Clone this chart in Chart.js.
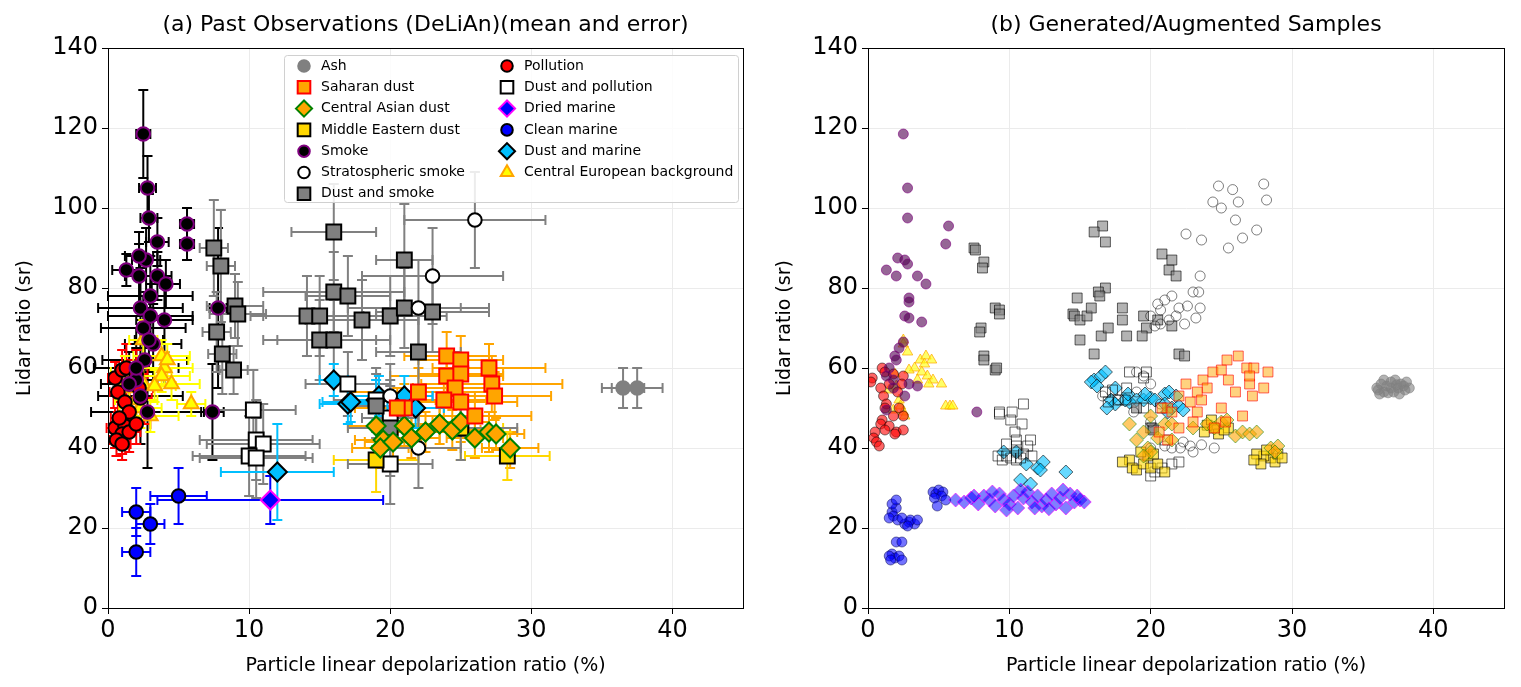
<!DOCTYPE html>
<html><head><meta charset="utf-8">
<script src="https://cdn.jsdelivr.net/npm/chart.js@4"></script>
<style>body{margin:0;background:#fff;overflow:hidden}#w{position:relative;width:1521px;height:687px}
.c{position:absolute;top:0;height:687px}</style></head><body>
<div id="w"><div class="c" style="left:0;width:760px"><canvas id="a"></canvas></div>
<div class="c" style="left:760px;width:761px"><canvas id="b"></canvas></div></div>
<script>
// ---- data: observations [x, y, xerr, yerr] ----
const classNames=["Ash","Saharan dust","Central Asian dust","Middle Eastern dust","Smoke","Stratospheric smoke","Dust and smoke","Pollution","Dust and pollution","Dried marine","Clean marine","Dust and marine","Central European background"];
const obsAsh=[[36.5,55,1.5,5],[37.5,55,1.8,5]];
const obsSaharan=[[24,63,3,6],[25,62,3,6],[24,58,4,6],[25,58.5,3,5],[27,60,4,6],[27.2,56,5,7],[27.4,53,4,6],[24.6,55,3,5],[22,54,5,6],[21,50,4,6],[20.5,50,3,5],[26,48,4,6],[23.8,52,3,6],[25,51.5,4,6]];
const obsCAsian=[[19,45.5,2,5],[19.5,42,2,5],[19.3,40,2,5],[20.2,41.5,2,5],[21,45.5,2,5],[21.5,42.5,2,5],[22.5,44,2,5],[23.5,46,2,5],[24.4,44.5,2,5],[25,46.5,2,5],[26,42.5,2,5],[27,44,2,5],[28.5,40,2,5],[27.5,43.5,2,4]];
const obsMEast=[[19,37,3,8],[25,45,3,8],[28.3,38,3,6]];
const obsSmoke=[[2.5,118.5,0.5,11],[2.8,105,0.6,8],[2.9,97.5,0.6,6],[3.5,91.5,0.8,6],[5.6,96,0.5,4],[5.6,91,0.5,4],[2.7,87,1,8],[2.2,83,1,8],[3.5,83,1,6],[4.1,81,1,6],[1.3,84.5,1,4],[2.3,75,3,10],[7.8,75,0.6,20],[7.4,49,0.8,12],[3,78,3,10],[3,73,3,8],[2.5,70,3,8],[3.2,66,2,10],[2.6,62,3,10],[4,72,2,8],[2,57,2,8],[2.3,53,3,12],[2.8,49,4,14],[1.5,56,2,8],[2,60,3,10],[2.2,88,1,6],[2.9,67,1,8]];
const obsStrat=[[26,97,5,12],[23,83,5,12],[22,75,5,12],[20,53,3,8],[22,40,3,10]];
const obsDSmoke=[[7.5,90,1,12],[8,85.5,1,14],[16,94,3,12],[21,87,2,14],[9,75.5,2,8],[9.2,73.5,2,8],[16,79,5,10],[17,78,3,10],[14.1,73,4,10],[15,73,4,10],[18,72,4,10],[20,73,4,10],[21,75,4,10],[23,74,4,10],[7.7,69,1,10],[8.1,63.5,1,10],[15,67,4,10],[16,67,4,10],[8.9,59.5,1,6],[22,64,3,10],[19,50.5,2,8],[20,45,3,12]];
const obsPoll=[[0.5,57.5,0.5,4],[1,59.5,0.5,5],[1.3,60,0.7,6],[2,58.5,0.8,6],[1.5,56,0.8,6],[0.7,54,0.6,5],[2.2,55,1,6],[1.2,51.5,0.8,5],[2.3,52.5,0.8,6],[1.5,49,1,5],[0.5,45,0.6,5],[1.2,45.5,0.8,5],[1,43.5,0.6,5],[0.6,42,0.5,4],[1,41,0.6,4],[1.5,44,0.8,5],[2,46,1,5],[0.8,47.5,0.6,5]];
const obsDPoll=[[10.3,49.5,3,10],[10.5,42,4,10],[11,41,4,10],[10,38,4,10],[10.5,37.5,4,10],[17,56,3,8],[19,52,3,8],[20,36,3,10],[25,45,4,8],[20,47.5,2,8]];
const obsDried=[[11.5,27,8,6]];
const obsClean=[[2,24,1,6],[3,21,1,5],[5,28,2,7],[2,14,1,6]];
const obsDMarine=[[12,34,4,12],[16,57,1,4],[17,51,2,5],[19,52,2,5],[21,53,2,5],[21.8,50,2,5],[17.2,51.5,2,5],[19.2,53,2,5]];
const obsCE=[[2.5,67,1,5],[1.5,55,1,5],[3.8,63,2,4],[4,60,2,4],[3.8,58,2,4],[4.5,56,2,4],[2,52,1.5,5],[2.3,50,1.5,5],[3,48,2,4],[5.9,51,1,3],[1.2,59,1,4],[2.5,56,2,4],[3.3,55.5,1.5,4],[4.2,62,1.5,4]];
// ---- data: generated samples, flat [x,y,...] ----
const genAsh=[36,55,36.3,56,36.5,54,36.7,55.5,37,56.5,37.2,54,37.5,55,37.7,56,38,54.5,36.2,53.5,36.8,53.8,37.3,57,37.9,55.5,38.3,55,36.5,57,37,55,37.6,53.5,38.1,56.5,36.1,54.5,37.4,55.8];
const genStrat=[24.8,105.5,25.8,104.6,26.2,101.5,25,100,24.4,101.5,28,106,28.2,102,26,97,27.5,94.5,26.5,92.5,25.5,90,22.5,93.5,23.6,92,23.5,83,23,79,23.4,79,21.5,78,21,77,20.5,76,20.7,74.5,23.5,75,22,75,21.8,73,20,73,21.3,72,22.4,71,23.2,72.5,22.6,75.5,20.7,71,20.3,70.5,20,56,19,54,20.7,51,19.5,58,19,59,18.8,49,20,46.5,22.1,40,22.8,40.5,21.5,40,21,40.5,20,40,23,39,24.5,40,17.7,52,16.6,53,22.3,41.5,23.6,40.8];
const genDSmoke=[7.5,90,7.6,89.5,8.2,86.5,8.1,85,16.6,95.5,16,94,16.8,91.5,9,75,9.3,74.5,9.3,73.5,8,70,7.9,69,8.2,63,8.2,62,9,59.5,9.1,60,14.5,73.5,14.6,73,15,72,15.5,73,16.8,80,16.3,79,16.4,78,14.8,77.5,15.8,75,15,67,16.5,68,17,70,18,75,18,72,19.5,73,19.7,70,20.5,72,21.5,70.5,21.3,84.5,20.8,88.5,21.5,87,21.8,83,22,63.5,22.4,63,19,50,20.1,45,20.2,44.5,16,63.5,18.3,68,19.4,68];
const genSaharan=[23.7,57,24.4,59,25,59.5,25.4,62,26.2,63,26.8,60,27.3,60,28.3,59,24,55,23.3,54,22.5,56,22,53,21.2,50,20.8,50,21.5,49,22.8,51.5,23.6,52,23.3,49,25,50,26,54,27,56,28,55,25.5,57,27.2,53,24.5,45,25.3,46.5,26.5,48,22,45,21.2,42,20.6,44,23,46.5,27,58];
const genCAsian=[18.5,46,19.5,44,19,42,19.8,40,20.5,42.5,21,46,21.5,46,21.5,42,23,45,24,46,24.5,45,25,46.5,25.4,47,26,43,26.5,44,27,43.5,27.5,44,28.5,40,29,40.5,28.8,39,20,39,19.5,38,20,48];
const genMEast=[18.5,37,18.7,35,19,34.5,19.5,36,19.8,38,20,35,20.5,36,21,34,20.2,38.5,19.3,39,18,36.5,24.5,45,24,45.7,23.8,44,24.8,43.5,25.5,45,24.3,47,25.2,44.5,28.5,37.5,28,38,27.5,38.5,28.8,36.5,27.8,36,29,38.5,29.3,37.5,27.3,37,28.2,39.5];
const genSmoke=[2.5,118.5,2.8,105,2.8,97.5,2.6,87,2.8,86,2,83,1.3,84.5,2.1,87.5,3.5,83,4.1,81,5.7,95.5,5.5,91,2.9,77.5,2.9,76.5,2.6,73,2.9,72.5,3.8,71.5,2.5,66.5,2.2,65,1.9,63,2,62,1.5,60,1.3,58,1.8,57,7.7,49,1.3,49.5,2.6,53,1.8,55,2.9,56,3.5,55.5];
const genPoll=[0.3,57.5,0.2,56.5,1,60,1.2,59,1.8,58.5,2.5,58,1.5,56,2.4,56,0.9,55,2.1,54,1.1,53,1.3,51,2.2,50,1.2,50,1.8,48,2.5,48,1,47,0.9,46,1.5,45.5,1.2,44.5,0.5,44,2,44,2.5,44.5,0.4,42.5,0.6,41.5,0.8,40.5,1.9,43.5];
const genDPoll=[9.3,49,9.3,48.5,10.1,47,10.2,49,11,51,10.9,46,10.4,44,10.5,42,9.8,41,10.5,40.5,10.5,39,11.3,40.5,11.5,42,10.8,37.5,10.1,37.5,9.8,38,9.5,37,9.2,38,10.5,37,11.6,38,11,38.5,16.8,54,17.3,54.5,18.3,55,17.7,52,17,51.5,19.5,57.5,18.5,59,19.7,59,20,45,20.3,34,20.8,35,20,33,21.5,36,22,36.5,21,42,18.2,52,19.5,50,20.7,50];
const genDried=[6.2,27,6.8,26.5,7.3,27.5,7.8,26,8.2,28,8.6,27,9,25.5,9.3,28.5,9.6,27,10,26,10.3,28,10.6,25,11,27.5,11.3,29,11.6,26.5,12,28,12.3,25.5,12.6,27,13,28.5,13.3,26,13.6,27.5,14,25,14.3,28.5,14.6,26.5,15,27,15.3,26.5,8.8,29,10.8,29.5,12.8,24.8,9.8,24.5,11.8,25,13.8,29.5,7.5,28,14.8,28];
const genClean=[1.7,24,2,25,1.8,23,1.5,22.5,2.1,22,1.7,26,2,27,2.6,21,2.9,21.5,3.3,21,3,22,2.8,20.5,3.5,22,2.4,22.5,4.6,29,4.8,28.5,5,29.5,5.3,29,5.2,28,4.7,27.5,4.9,25.5,5.5,27,1.7,13.5,1.9,12.5,2.2,13,2.4,12,2,16.5,2.4,16.5,1.5,13,1.6,12];
const genDMarine=[16,57,15.8,56.5,16.2,55.5,16.5,58,16.8,59,17.5,55,17.2,52,17.5,51,16.9,50,19,52,19.5,52,20,52.5,18.5,51.5,18.2,52,20.3,52,21,53.5,21.3,54,21.8,53,21,51,21.5,50,22,50.5,22.3,49.5,9.6,39,10.5,39,11.2,36,12,35,12.4,36.5,12.2,34.5,11.5,31,10.8,32,14,34,18.4,53.5,19.6,53.5,21.2,49];
const genCE=[2.5,67,3.7,62,4.1,63,4.5,62,4,61,3.3,60,3.8,59,4.2,58,3.5,57,4.6,57,4.3,56,5.2,56,2.9,59.5,1.9,58.5,2,55.5,1.5,54.5,2.2,52,2.3,50.5,1.8,49.5,2.5,49,2.6,48,5.5,50.5,5.8,50.5,6,50.5,2.5,66,2.8,64];
const xTicks=[0,10,20,30,40], yTicks=[0,20,40,60,80,100,120,140];

// styles per class: [pointStyle, fill, edge, errColor, genFill, genEdge]
const S=[
 ["circle","#808080","#808080","#808080","rgba(128,128,128,0.6)","rgba(128,128,128,0.6)"],
 ["rect","#ffa500","#ff0000","#ffa500","rgba(255,165,0,0.5)","rgba(255,0,0,0.6)"],
 ["rectRot","#ffa500","#008000","#ffa500","rgba(255,165,0,0.6)","rgba(0,128,0,0.5)"],
 ["rect","#ffd700","#000000","#ffd700","rgba(255,215,0,0.6)","rgba(0,0,0,0.6)"],
 ["circle","#000000","#800080","#000000","rgba(80,0,80,0.6)","rgba(128,0,128,0.6)"],
 ["circle","#ffffff","#000000","#808080","rgba(255,255,255,0)","rgba(0,0,0,0.5)"],
 ["rect","#808080","#000000","#808080","rgba(128,128,128,0.6)","rgba(0,0,0,0.6)"],
 ["circle","#ff0000","#000000","#ff0000","rgba(255,0,0,0.6)","rgba(0,0,0,0.5)"],
 ["rect","#ffffff","#000000","#808080","rgba(255,255,255,0)","rgba(0,0,0,0.6)"],
 ["rectRot","#0000ff","#ff00ff","#0000ff","rgba(0,0,255,0.5)","rgba(255,0,255,0.6)"],
 ["circle","#0000ff","#000000","#0000ff","rgba(0,0,255,0.55)","rgba(0,0,80,0.5)"],
 ["rectRot","#00bfff","#000000","#00bfff","rgba(0,191,255,0.6)","rgba(0,0,0,0.6)"],
 ["triangle","#ffff00","#ffa500","#ffff00","rgba(255,255,0,0.6)","rgba(255,165,0,0.7)"]];
const obs=[obsAsh,obsSaharan,obsCAsian,obsMEast,obsSmoke,obsStrat,obsDSmoke,obsPoll,obsDPoll,obsDried,obsClean,obsDMarine,obsCE];
const gen=[genAsh,genSaharan,genCAsian,genMEast,genSmoke,genStrat,genDSmoke,genPoll,genDPoll,genDried,genClean,genDMarine,genCE];
const F="'DejaVu Sans'";
function pr(s){return s[0]==="rectRot"?9.5:(s[0]==="rect"?10.5:(s[0]==="triangle"?8.5:6.8));}
function gr(s){return s[0]==="rectRot"?7:(s[0]==="rect"?7:(s[0]==="triangle"?6:5));}
function scales(){
 return {x:{type:'linear',min:0,max:45,afterFit:s=>{s.height=69},afterBuildTicks:s=>{s.ticks=xTicks.map(v=>({value:v}))},
   ticks:{font:{family:F,size:24},color:'#000',padding:2},grid:{color:'#ebebeb',drawTicks:true,tickColor:'#000',tickLength:6},border:{color:'#000'},
   title:{display:true,text:'Particle linear depolarization ratio (%)',font:{family:F,size:19},color:'#000',padding:{top:2,bottom:0}}},
  y:{type:'linear',min:0,max:140,afterFit:s=>{s.width=94},afterBuildTicks:s=>{s.ticks=yTicks.map(v=>({value:v}))},
   ticks:{font:{family:F,size:24},color:'#000',padding:4},grid:{color:'#ebebeb',tickColor:'#000',tickLength:6},border:{color:'#000'},
   title:{display:true,text:'Lidar ratio (sr)',font:{family:F,size:19},color:'#000',padding:{bottom:0,top:0}}}};
}
const frame={id:'frame',afterDraw(c){const a=c.chartArea,x=c.ctx;x.save();x.strokeStyle='#000';x.lineWidth=1;x.strokeRect(a.left+.5,a.top+.5,a.width,a.height);
 x.fillStyle='#000';x.font='22px '+F;x.textAlign='center';x.textBaseline='middle';x.fillText(c.options.plugins.ttl,(a.left+a.right)/2,25);x.restore();}};
const errb={id:'errb',beforeDatasetsDraw(c){const x=c.ctx,X=c.scales.x,Y=c.scales.y;x.save();x.lineWidth=2;
 obs.forEach((arr,k)=>{x.strokeStyle=S[k][3];arr.forEach(p=>{const px=X.getPixelForValue(p[0]),py=Y.getPixelForValue(p[1]);
  const x0=X.getPixelForValue(p[0]-p[2]),x1=X.getPixelForValue(p[0]+p[2]),y0=Y.getPixelForValue(p[1]-p[3]),y1=Y.getPixelForValue(p[1]+p[3]);
  x.beginPath();x.moveTo(x0,py);x.lineTo(x1,py);x.moveTo(px,y0);x.lineTo(px,y1);
  x.moveTo(x0,py-5);x.lineTo(x0,py+5);x.moveTo(x1,py-5);x.lineTo(x1,py+5);x.moveTo(px-5,y0);x.lineTo(px+5,y0);x.moveTo(px-5,y1);x.lineTo(px+5,y1);x.stroke();});});x.restore();}};
const leg={id:'leg',afterDraw(c){const x=c.ctx;x.save();x.fillStyle='rgba(255,255,255,0.85)';x.strokeStyle='#d0d0d0';x.lineWidth=1;
 x.beginPath();x.roundRect(284.5,55.5,454,147,3);x.fill();x.stroke();
 x.font='14px '+F;x.textBaseline='middle';
 classNames.forEach((n,k)=>{const col=k<7?0:1,row=k<7?k:k-7;const mx=col?507:304,my=66+row*21.3;const s=S[k];
  x.fillStyle=s[1];x.strokeStyle=s[2];x.lineWidth=2;Chart.helpers.drawPoint(x,{pointStyle:s[0],radius:pr(s)*0.85,rotation:0,borderWidth:2},mx,my);
  x.fillStyle='#000';x.fillText(n,mx+17,my);});x.restore();}};
const common=(ttl)=>({responsive:true,maintainAspectRatio:false,animation:false,events:[],
 layout:{padding:{top:48,right:17,left:14,bottom:10}},scales:scales(),plugins:{legend:{display:false},tooltip:{enabled:false},ttl}});
new Chart(document.getElementById('a'),{type:'scatter',data:{datasets:obs.map((arr,k)=>({data:arr.map(p=>({x:p[0],y:p[1]})),pointStyle:S[k][0],
 pointRadius:pr(S[k]),backgroundColor:S[k][1],borderColor:S[k][2],borderWidth:2}))},options:common('(a) Past Observations (DeLiAn)(mean and error)'),plugins:[errb,frame,leg]});
new Chart(document.getElementById('b'),{type:'scatter',data:{datasets:gen.map((arr,k)=>{const d=[];for(let i=0;i<arr.length;i+=2)d.push({x:arr[i],y:arr[i+1]});
 return {data:d,pointStyle:S[k][0],pointRadius:gr(S[k]),backgroundColor:S[k][4],borderColor:S[k][5],borderWidth:1}})},options:common('(b) Generated/Augmented Samples'),plugins:[frame]});
</script></body></html>
